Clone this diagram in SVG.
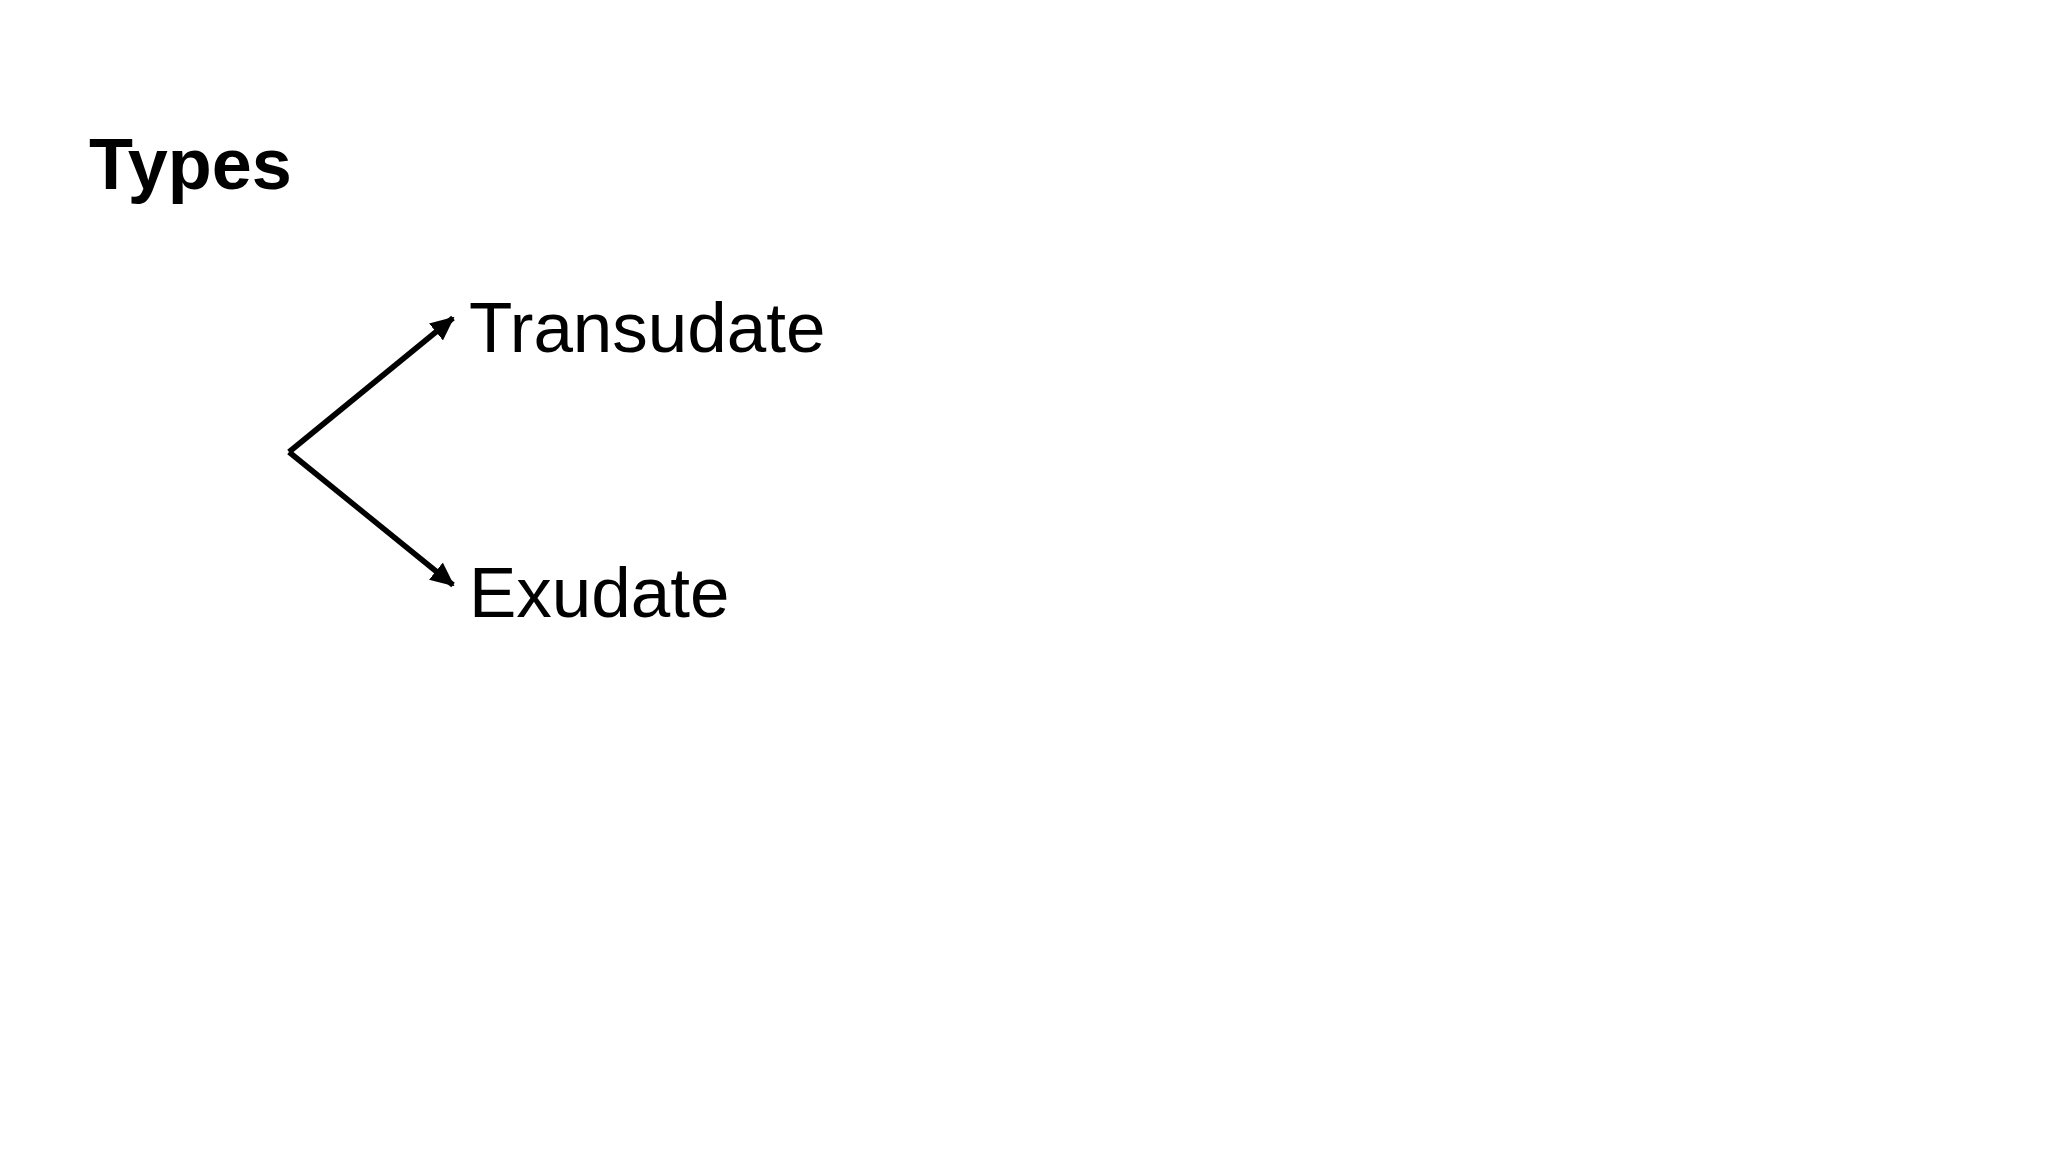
<svg xmlns="http://www.w3.org/2000/svg" width="2048" height="1152" viewBox="0 0 2048 1152">
<style>
.title{font-family:"Liberation Sans",Arial,sans-serif;font-weight:bold;font-size:72px;fill:#000}
.label{font-family:"Liberation Sans",Arial,sans-serif;font-size:71px;fill:#000}
.conn{stroke:#000;stroke-width:5.5;fill:none;marker-end:url(#arrow)}
</style>
<defs>
<marker id="arrow" markerUnits="userSpaceOnUse" markerWidth="24" markerHeight="22" viewBox="0 0 24 22" refX="22" refY="11" orient="auto">
<path d="M0,0 L24,11 L0,22 Z" fill="#000"/>
</marker>
</defs>
<rect width="2048" height="1152" fill="#fff"/>
<g id="title"><text class="title" x="89" y="189">Types</text></g>
<g id="node-transudate"><text class="label" x="469" y="352">Transudate</text></g>
<g id="node-exudate"><text class="label" x="469" y="617">Exudate</text></g>
<g id="connectors">
<path class="conn" d="M289,452 L453,318"/>
<path class="conn" d="M289,452 L453,585"/>
</g>
</svg>
